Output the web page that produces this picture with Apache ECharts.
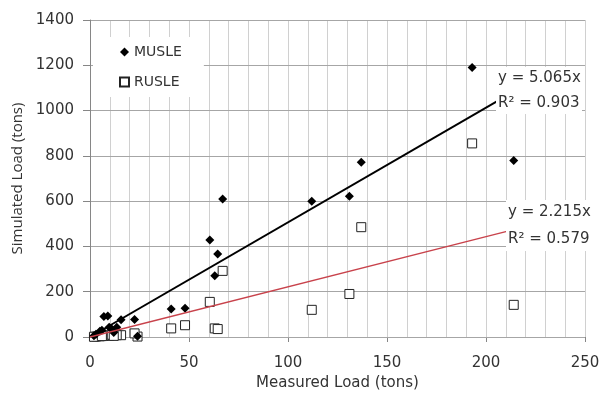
<!DOCTYPE html>
<html>
<head>
<meta charset="utf-8">
<script src="https://cdn.jsdelivr.net/npm/echarts@6/dist/echarts.min.js"></script>
<style>html,body{margin:0;padding:0;background:#fff;}#c{width:606px;height:398px;}</style>
</head>
<body>
<div id="c"></div>
<script>
// Measured load (tons) per event, shared by both models
var measured = [214, 193, 137, 131, 112, 67, 60.5, 63, 64.5, 48, 41, 24, 22.5, 15.7, 13.5, 9.7, 7, 9, 5, 3, 2, 11, 6, 12];
// Simulated loads (tons)
var musle = [780, 1190, 772, 622, 600, 610, 428, 271, 367, 127, 124, 3, 77, 76, 43, 43, 90, 93, 25, 12, 5, 35, 30, 20];
var rusle = [142, 855, 485, 190, 120, 292, 155, 38, 35, 52, 38, 2, 16, 8, 8, 6, 5, 7, 3, 2, 1, 10, 4, 5];
// Linear trendlines through origin (endpoints)
var musleTrend = [[0, 0], [214, 1084]];
var rusleTrend = [[0, 0], [214, 474]];
var musleLabel = ['y = 5.065x', 'R\u00b2 = 0.903'];
var rusleLabel = ['y = 2.215x', 'R\u00b2 = 0.579'];
var xTitle = 'Measured Load (tons)';
var yTitle = 'Simulated Load (tons)';

function pairs(xs, ys) { return xs.map(function (x, i) { return [x, ys[i]]; }); }

var chart = echarts.init(document.getElementById('c'));
var txt = '#333333';
var font = 'DejaVu Sans';
chart.setOption({
  backgroundColor: '#ffffff',
  animation: false,
  grid: { left: 90, right: 21, top: 20, bottom: 61 },
  legend: {
    data: ['MUSLE', 'RUSLE'],
    orient: 'vertical',
    left: 93, top: 37,
    backgroundColor: '#ffffff',
    padding: [8, 22, 8, 26],
    itemWidth: 9, itemHeight: 9,
    itemGap: 16,
    textStyle: { fontFamily: font, fontSize: 14, color: txt }
  },
  xAxis: [{
    type: 'value', min: 0, max: 250, interval: 10,
    name: xTitle, nameLocation: 'middle', nameGap: 38,
    nameTextStyle: { fontFamily: font, fontSize: 15, color: txt },
    axisLine: { show: true, onZero: false, lineStyle: { color: '#868686', width: 1 } },
    axisTick: { show: false },
    axisLabel: { margin: 19, fontFamily: font, fontSize: 15, color: txt, showMinLabel: true, showMaxLabel: true, interval: 0,
      formatter: function (v) { return v % 50 === 0 ? String(v) : ''; } },
    splitLine: { show: true, lineStyle: { color: '#d0d0d0', width: 1 } }
  }, {
    type: 'value', min: 0, max: 250, interval: 50, position: 'bottom', offset: 0,
    axisLine: { show: false, onZero: false },
    axisTick: { show: true, length: 5, lineStyle: { color: '#868686' } },
    axisLabel: { show: false },
    splitLine: { show: false }
  }],
  yAxis: {
    type: 'value', min: 0, max: 1400, interval: 200,
    name: yTitle, nameLocation: 'middle', nameGap: 55, nameRotate: 90,
    nameTextStyle: { fontFamily: 'Open Sans', fontSize: 15, color: txt },
    axisLine: { show: true, onZero: false, lineStyle: { color: '#868686', width: 1 } },
    axisTick: { show: true, length: 7, lineStyle: { color: '#868686' } },
    axisLabel: { margin: 16, fontFamily: font, fontSize: 15, color: txt, formatter: function (v) { return String(v); } },
    splitLine: { show: true, lineStyle: { color: '#a6a6a6', width: 1 } },
    z: 3
  },
  series: [
    {
      name: 'RUSLE', type: 'scatter', symbol: 'rect', symbolSize: 9,
      itemStyle: { color: '#ffffff', borderColor: '#222222', borderWidth: 1, opacity: 1 },
      data: pairs(measured, rusle), z: 3
    },
    {
      name: 'MUSLE', type: 'scatter', symbol: 'diamond', symbolSize: 9,
      itemStyle: { color: '#000000', opacity: 1 },
      data: pairs(measured, musle), z: 4
    },
    {
      name: 'MUSLE trend', type: 'line', data: musleTrend, symbol: 'none',
      lineStyle: { color: '#000000', width: 2 }, z: 5, silent: true
    },
    {
      name: 'RUSLE trend', type: 'line', data: rusleTrend, symbol: 'none',
      lineStyle: { color: '#c8424b', width: 1.3 }, z: 5, silent: true
    },
    {
      name: 'tickAxis', type: 'scatter', xAxisIndex: 1, data: [], silent: true
    }
  ],
  graphic: [
    { type: 'rect', z: 50, shape: { x: 496, y: 67, width: 86, height: 47 }, style: { fill: '#ffffff' } },
    { type: 'text', z: 51, left: 498, top: 71, style: { text: musleLabel[0], font: '15px "DejaVu Sans"', fill: txt } },
    { type: 'text', z: 51, left: 498, top: 96, style: { text: musleLabel[1], font: '15px "DejaVu Sans"', fill: txt } },
    { type: 'rect', z: 50, shape: { x: 506, y: 200, width: 90, height: 51 }, style: { fill: '#ffffff' } },
    { type: 'text', z: 51, left: 508, top: 205, style: { text: rusleLabel[0], font: '15px "DejaVu Sans"', fill: txt } },
    { type: 'text', z: 51, left: 508, top: 232, style: { text: rusleLabel[1], font: '15px "DejaVu Sans"', fill: txt } }
  ]
});
</script>
</body>
</html>
